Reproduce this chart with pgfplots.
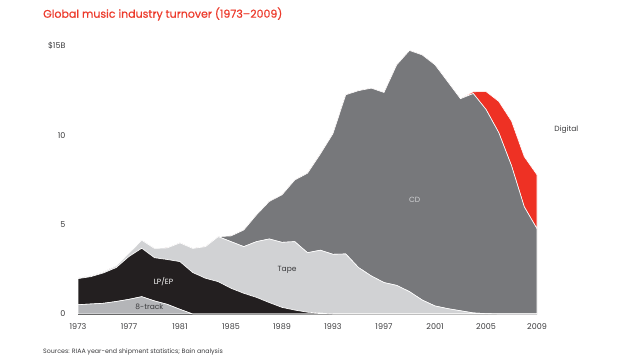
\documentclass[border=0pt]{standalone}
\usepackage{pgfplots}
\usepackage{pgfplotstable}
\pgfplotsset{compat=1.18}
\usepackage{fontspec}
\setmainfont{Poppins}
\newfontfamily\titlefont[FakeBold=0.6]{Poppins}
\definecolor{ceight}{HTML}{B4B5B8}
\definecolor{clp}{HTML}{231F20}
\definecolor{ctape}{HTML}{D1D2D4}
\definecolor{ccd}{HTML}{77787B}
\definecolor{cdig}{HTML}{EE3124}
\definecolor{ctitle}{HTML}{EC3A2B}
\definecolor{ctext}{HTML}{3A3A3C}

\pgfplotstableread{
year eight lp tape cd dig
1973 0.52 1.46 0.03 0 0
1974 0.56 1.53 0.04 0 0
1975 0.60 1.70 0.06 0 0
1976 0.70 1.90 0.10 0 0
1977 0.82 2.40 0.18 0 0
1978 0.97 2.71 0.45 0 0
1979 0.73 2.42 0.52 0 0
1980 0.54 2.51 0.65 0 0
1981 0.26 2.67 1.05 0 0
1982 0 2.32 1.35 0 0
1983 0 2.00 1.77 0 0
1984 0 1.81 2.52 0 0
1985 0 1.44 2.61 0.32 0
1986 0 1.16 2.61 0.93 0
1987 0 0.93 3.12 1.50 0
1988 0 0.64 3.56 2.10 0
1989 0 0.37 3.64 2.66 0
1990 0 0.22 3.83 3.45 0
1991 0 0.10 3.33 4.45 0
1992 0 0.05 3.52 5.38 0
1993 0 0 3.34 6.76 0
1994 0 0 3.36 8.91 0
1995 0 0 2.60 9.90 0
1996 0 0 2.13 10.51 0
1997 0 0 1.76 10.64 0
1998 0 0 1.60 12.35 0
1999 0 0 1.25 13.50 0
2000 0 0 0.78 13.72 0
2001 0 0 0.45 13.50 0
2002 0 0 0.30 12.70 0
2003 0 0 0.18 11.87 0
2004 0 0 0.06 12.28 0.10
2005 0 0 0.02 11.43 1.00
2006 0 0 0 10.15 1.75
2007 0 0 0 8.30 2.50
2008 0 0 0 6.00 2.81
2009 0 0 0 4.77 3.02
}\musicdata

\begin{document}
\begin{tikzpicture}[x=1pt,y=1pt]
\useasboundingbox (0,0) rectangle (640,360);
\node[anchor=west, inner sep=0pt, text=ctitle, font=\titlefont\fontsize{11}{13}\selectfont] at (43,346) {Global music industry turnover (1973–2009)};
\node[anchor=west, inner sep=0pt, text=ctext, font=\fontsize{6.3}{7.5}\selectfont] at (43,8) {Sources: RIAA year-end shipment statistics; Bain analysis};
\begin{axis}[
  at={(78pt,46pt)}, anchor=south west,
  scale only axis, width=459pt, height=268pt,
  xmin=1973, xmax=2009, ymin=0, ymax=15,
  stack plots=y,
  clip=false,
  axis x line*=bottom, axis y line*=left,
  x axis line style={-, black, line width=1.6pt},
  y axis line style={draw=none},
  xtick={1973,1977,1981,1985,1989,1993,1997,2001,2005,2009},
  xticklabels={1973,1977,1981,1985,1989,1993,1997,2001,2005,2009},
  ytick={0,5,10,15},
  yticklabels={0,5,10,\$15B},
  major tick length=0pt,
  tick label style={font=\fontsize{8}{9}\selectfont, text=ctext},
  xticklabel style={yshift=-6pt},
  yticklabel style={xshift=-9pt},
]
\addplot[fill=ceight, draw=white, line width=0.6pt] table[x=year,y=eight]{\musicdata} \closedcycle;
\addplot[fill=clp, draw=white, line width=0.6pt] table[x=year,y=lp]{\musicdata} \closedcycle;
\addplot[fill=ctape, draw=white, line width=0.6pt] table[x=year,y=tape]{\musicdata} \closedcycle;
\addplot[fill=ccd, draw=white, line width=0.6pt] table[x=year,y=cd]{\musicdata} \closedcycle;
\addplot[fill=cdig, draw=white, line width=0.6pt] table[x=year,y=dig]{\musicdata} \closedcycle;
\coordinate (lplab) at (axis cs:1979.7,1.8);
\coordinate (eightlab) at (axis cs:1978.6,0.38);
\coordinate (tapelab) at (axis cs:1989.4,2.45);
\coordinate (cdlab) at (axis cs:1999.4,6.4);
\coordinate (diglab) at (axis cs:2011.3,10.3);
\end{axis}
\node[font=\fontsize{7.5}{9}\selectfont, text=white] at (lplab) {LP/EP};
\node[font=\fontsize{7.5}{9}\selectfont, text=ctext] at (eightlab) {8-track};
\node[font=\fontsize{7.5}{9}\selectfont, text=ctext] at (tapelab) {Tape};
\node[font=\fontsize{7.5}{9}\selectfont, text=ctape] at (cdlab) {CD};
\node[font=\fontsize{7.5}{9}\selectfont, text=ctext] at (diglab) {Digital};
\end{tikzpicture}
\end{document}
